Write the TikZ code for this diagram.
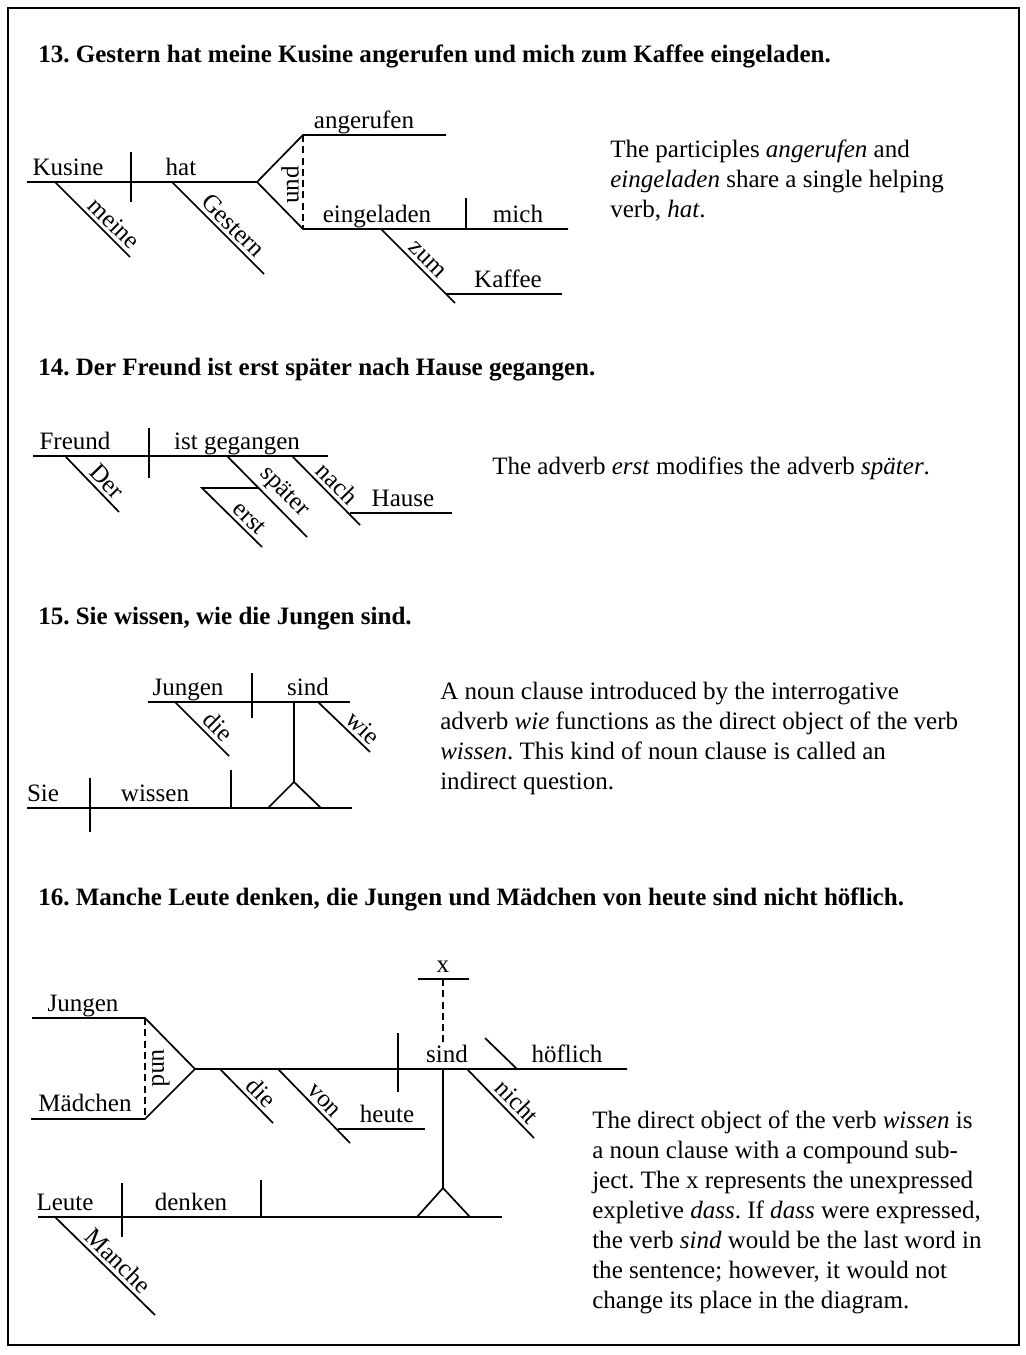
\documentclass[tikz,border=0pt]{standalone}
\usepackage{fontspec}
\setmainfont{Liberation Serif}
\frenchspacing
\newcommand{\pagefont}{\fontsize{17.8}{21.3}\selectfont}

\begin{document}
\begin{tikzpicture}[x=0.025cm, y=-0.025cm,
  every node/.style={font=\pagefont, inner sep=0pt},
  rule/.style={line width=1.2pt},
  linkdash/.style={line width=1.2pt, dash pattern=on 5pt off 3pt},
  word/.style={anchor=base},
  modword/.style={sloped, above=2.5pt},
  headline/.style={anchor=base west, font=\pagefont\bfseries},
  note/.style={anchor=base west}]
\useasboundingbox (0,0) rectangle (1026,1355);
\draw[line width=1.5pt] (8,8) rectangle (1019,1345);

% 13
\node[headline] (title13) at (38,62) {13. Gestern hat meine Kusine angerufen und mich zum Kaffee eingeladen.};
\draw[rule] (27,182) -- (257,182) -- (303,135) -- (446,135);
\draw[rule] (257,182) -- (303,229) -- (568,229);
\draw[linkdash] (303,135) -- (303,229);
\draw[rule] (131,152) -- (131,202);
\draw[rule] (466,198) -- (466,229);
\draw[rule] (55,182) -- node[modword, pos=0.67] (meine) {meine} (130,257);
\draw[rule] (172,182) -- node[modword, pos=0.57] (gestern) {Gestern} (264,274);
\draw[rule] (381,229) -- node[modword, pos=0.52] (zum) {zum} (455,303);
\draw[rule] (446,294) -- (562,294);
\node[word] (kusine) at (68,175) {Kusine};
\node[word] (hat) at (181,175) {hat};
\node[word] (angerufen) at (364,128) {angerufen};
\node[word] (eingeladen) at (377,222) {eingeladen};
\node[word] (mich) at (518,222) {mich};
\node[word] (kaffee) at (508,287) {Kaffee};
\node[rotate=90] (und13) at (290,185) {und};
\foreach \ln [count=\i] in {{The participles \emph{angerufen} and}, {\emph{eingeladen} share a single helping}, {verb, \emph{hat}.}} {
  \node[note] (n13-\i) at (610,{127+30*\i}) {\ln};
}

% 14
\node[headline] (title14) at (38,375) {14. Der Freund ist erst später nach Hause gegangen.};
\draw[rule] (33,456) -- (328,456);
\draw[rule] (149,428) -- (149,478);
\draw[rule] (65,456) -- node[modword, pos=0.61] (der) {Der} (119,512);
\draw[rule] (227,456) -- node[modword, pos=0.58] (spaeter) {später} (307,537);
\draw[rule] (259,488) -- (202,488) -- node[modword, pos=0.65] (erst) {erst} (262,547);
\draw[rule] (292,456) -- node[modword, pos=0.53] (nach) {nach} (360,525);
\draw[rule] (350,513) -- (452,513);
\node[word] (freund) at (75,449) {Freund};
\node[word] (gegangen) at (237,449) {ist gegangen};
\node[word] (hause) at (403,506) {Hause};
\node[note] (n14) at (492,474) {The adverb \emph{erst} modifies the adverb \emph{später}.};

% 15
\node[headline] (title15) at (38,624) {15. Sie wissen, wie die Jungen sind.};
\draw[rule] (148,702) -- (350,702);
\draw[rule] (252,673) -- (252,718);
\draw[rule] (175,702) -- node[modword, pos=0.63] (die15) {die} (229,756);
\draw[rule] (318,702) -- node[modword, pos=0.7] (wie) {wie} (370,752);
\draw[rule] (294,702) -- (294,782);
\draw[rule] (268,808) -- (294,782) -- (321,808);
\draw[rule] (27,808) -- (352,808);
\draw[rule] (90,778) -- (90,832);
\draw[rule] (231,770) -- (231,808);
\node[word] (jungen15) at (188,695) {Jungen};
\node[word] (sind15) at (308,695) {sind};
\node[word] (sie) at (43,801) {Sie};
\node[word] (wissen) at (155,801) {wissen};
\foreach \ln [count=\i] in {{A noun clause introduced by the interrogative}, {adverb \emph{wie} functions as the direct object of the verb}, {\emph{wissen}. This kind of noun clause is called an}, {indirect question.}} {
  \node[note] (n15-\i) at (440,{669+30*\i}) {\ln};
}

% 16
\node[headline] (title16) at (38,905) {16. Manche Leute denken, die Jungen und Mädchen von heute sind nicht höflich.};
\draw[rule] (418,979) -- (469,979);
\draw[linkdash] (443,979) -- (443,1046);
\node[word] (x) at (443,972) {x};
\draw[rule] (32,1018) -- (145,1018) -- (195,1069) -- (627,1069);
\draw[rule] (31,1119) -- (145,1119) -- (195,1069);
\draw[linkdash] (145,1018) -- (145,1119);
\node[rotate=-90] (und16) at (161,1068) {und};
\draw[rule] (220,1069) -- node[modword, pos=0.6] (die16) {die} (273,1123);
\draw[rule] (278,1069) -- node[modword, pos=0.53] (von) {von} (350,1143);
\draw[rule] (338,1129) -- (425,1129);
\draw[rule] (398,1033) -- (398,1092);
\draw[rule] (443,1069) -- (443,1188);
\draw[rule] (417,1217) -- (443,1188) -- (470,1217);
\draw[rule] (467,1069) -- node[modword, pos=0.61] (nicht) {nicht} (534,1138);
\draw[rule] (485,1038) -- (517,1069);
\draw[rule] (38,1217) -- (502,1217);
\draw[rule] (122,1183) -- (122,1237);
\draw[rule] (261,1180) -- (261,1217);
\draw[rule] (55,1217) -- node[modword, pos=0.54] (manche) {Manche} (155,1315);
\node[word] (jungen16) at (83,1011) {Jungen};
\node[word] (maedchen) at (85,1111) {Mädchen};
\node[word] (heute) at (387,1122) {heute};
\node[word] (sind16) at (447,1062) {sind};
\node[word] (hoeflich) at (567,1062) {höflich};
\node[word] (leute) at (65,1210) {Leute};
\node[word] (denken) at (191,1210) {denken};
\foreach \ln [count=\i] in {{The direct object of the verb \emph{wissen} is}, {a noun clause with a compound sub-}, {ject. The x represents the unexpressed}, {expletive \emph{dass}. If \emph{dass} were expressed,}, {the verb \emph{sind} would be the last word in}, {the sentence; however, it would not}, {change its place in the diagram.}} {
  \node[note] (n16-\i) at (592,{1098+30*\i}) {\ln};
}
\end{tikzpicture}
\end{document}
